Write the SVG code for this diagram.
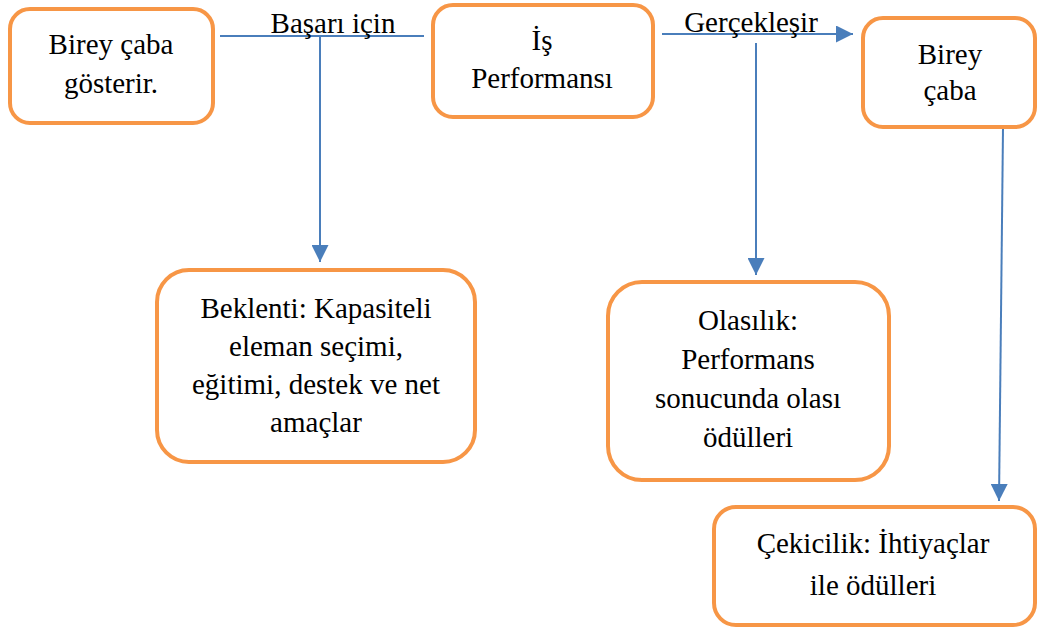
<svg xmlns="http://www.w3.org/2000/svg" width="1038" height="628" viewBox="0 0 1038 628">
<defs>
<style>
.box{fill:#fff;stroke:#F79646;stroke-width:4}
.t{font-family:'Liberation Serif','DejaVu Serif',serif;font-size:29px;fill:#000;text-anchor:middle}
.c{stroke:#4A7EBB;stroke-width:2;fill:none}
</style>
<marker id="ah" viewBox="0 0 10 10" refX="10" refY="5" markerWidth="8.5" markerHeight="8.5" markerUnits="strokeWidth" orient="auto">
<path d="M0,0 L10,5 L0,10 z" fill="#4A7EBB"/>
</marker>
</defs>
<rect width="1038" height="628" fill="#fff"/>
<g id="connectors">
<line class="c" x1="220" y1="36" x2="424" y2="36"/>
<line class="c" x1="320" y1="37" x2="320" y2="262" marker-end="url(#ah)"/>
<line class="c" x1="662" y1="34" x2="853" y2="34" marker-end="url(#ah)"/>
<line class="c" x1="756" y1="43" x2="756" y2="275" marker-end="url(#ah)"/>
<line class="c" x1="1003" y1="128" x2="999" y2="501" marker-end="url(#ah)"/>
<text class="t" x="333" y="33">Başarı için</text>
<text class="t" x="751" y="32">Gerçekleşir</text>
</g>
<g id="n1">
<rect class="box" x="10" y="9" width="203" height="114" rx="20"/>
<text class="t" x="111" y="54">Birey çaba</text>
<text class="t" x="111" y="93">gösterir.</text>
</g>
<g id="n2">
<rect class="box" x="433" y="5" width="220" height="112" rx="20"/>
<text class="t" x="542" y="50">İş</text>
<text class="t" x="542" y="88">Performansı</text>
</g>
<g id="n3">
<rect class="box" x="863" y="18" width="172" height="109" rx="20"/>
<text class="t" x="950" y="64">Birey</text>
<text class="t" x="950" y="100">çaba</text>
</g>
<g id="n4">
<rect class="box" x="157" y="270" width="318" height="192" rx="32"/>
<text class="t" x="316" y="318">Beklenti: Kapasiteli</text>
<text class="t" x="316" y="356">eleman seçimi,</text>
<text class="t" x="316" y="394">eğitimi, destek ve net</text>
<text class="t" x="316" y="432">amaçlar</text>
</g>
<g id="n5">
<rect class="box" x="608" y="282" width="281" height="198" rx="34"/>
<text class="t" x="748" y="330">Olasılık:</text>
<text class="t" x="748" y="369">Performans</text>
<text class="t" x="748" y="408">sonucunda olası</text>
<text class="t" x="748" y="447">ödülleri</text>
</g>
<g id="n6">
<rect class="box" x="714" y="507" width="321" height="118" rx="22"/>
<text class="t" x="873" y="553">Çekicilik: İhtiyaçlar</text>
<text class="t" x="873" y="595">ile ödülleri</text>
</g>
</svg>
